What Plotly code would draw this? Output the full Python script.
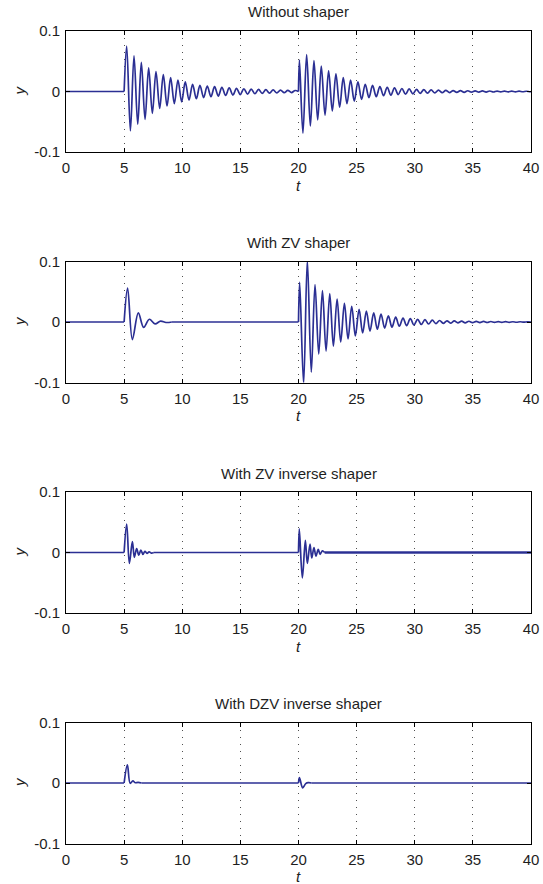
import plotly.graph_objects as go

# ---------------------------------------------------------------------------
# Data: residual vibration y(t) for four command shapers.
# Each oscillating burst is stored as the times and values of its successive
# extrema (peaks and troughs); flat stretches sit at y = 0.
# ---------------------------------------------------------------------------
panel_titles = ["Without shaper", "With ZV shaper",
                "With ZV inverse shaper", "With DZV inverse shaper"]
x_ticks = [0, 5, 10, 15, 20, 25, 30, 35, 40]
y_ticks = [-0.1, 0.0, 0.1]
y_tick_text = ["-0.1", "0", "0.1"]

# --- Without shaper --------------------------------------------------------
p1_burst1_t = [5.00, 5.22, 5.54, 5.85, 6.17, 6.48, 6.80, 7.11, 7.43, 7.74, 8.06,
               8.37, 8.69, 9.00, 9.32, 9.63, 9.95, 10.26, 10.58, 10.89, 11.21,
               11.52, 11.84, 12.15, 12.47, 12.78, 13.10, 13.41, 13.73, 14.04,
               14.36, 14.67, 14.99, 15.30, 15.62, 15.93, 16.25, 16.56, 16.88,
               17.19, 17.51, 17.82, 18.14, 18.45, 18.77, 19.08, 19.40, 19.71,
               20.00]
p1_burst1_y = [0.0, 0.075, -0.065, 0.059, -0.054, 0.048, -0.046, 0.039, -0.036,
               0.033, -0.028, 0.028, -0.024, 0.023, -0.020, 0.019, -0.017, 0.016,
               -0.014, 0.012, -0.012, 0.010, -0.010, 0.009, -0.0085, 0.008,
               -0.0075, 0.007, -0.0065, 0.006, -0.0058, 0.0052, -0.005, 0.0045,
               -0.0042, 0.004, -0.0037, 0.0035, -0.0032, 0.003, -0.0028, 0.0026,
               -0.0024, 0.0022, -0.002, 0.0019, -0.0017, 0.0016, 0.0]
p1_burst2_t = [20.00, 20.08, 20.38, 20.70, 21.02, 21.33, 21.65, 21.96, 22.28,
               22.59, 22.91, 23.22, 23.54, 23.85, 24.17, 24.48, 24.80, 25.11,
               25.43, 25.74, 26.06, 26.37, 26.69, 27.00, 27.32, 27.63, 27.95,
               28.26, 28.58, 28.89, 29.21, 29.52, 29.84, 30.15, 30.47, 30.78,
               31.10, 31.41, 31.73, 32.04, 32.36, 32.67, 32.99, 33.30, 33.62,
               33.93, 34.25, 34.56, 34.88, 35.19, 35.51, 35.82, 36.14, 36.45,
               36.77, 37.08, 37.40, 37.71, 38.03, 38.34, 38.66, 38.97, 39.29,
               39.60, 39.92, 40.00]
p1_burst2_y = [0.0, 0.052, -0.069, 0.061, -0.057, 0.051, -0.047, 0.042, -0.039,
               0.034, -0.032, 0.029, -0.026, 0.023, -0.020, 0.019, -0.016, 0.016,
               -0.013, 0.012, -0.010, 0.010, -0.0085, 0.008, -0.007, 0.007,
               -0.006, 0.006, -0.005, 0.005, -0.0045, 0.0042, -0.0038, 0.0035,
               -0.0032, 0.003, -0.0028, 0.0026, -0.0024, 0.0022, -0.002, 0.0019,
               -0.0017, 0.0016, -0.0015, 0.0014, -0.0013, 0.0012, -0.0011, 0.001,
               -0.001, 0.0009, -0.0009, 0.0008, -0.0008, 0.0007, -0.0007, 0.0006,
               -0.0006, 0.0005, -0.0005, 0.0005, -0.0004, 0.0004, -0.0004, 0.0]

# --- With ZV shaper --------------------------------------------------------
p2_burst1_t = [5.00, 5.30, 5.71, 6.22, 6.68, 7.17, 7.66, 8.14, 8.60, 9.10]
p2_burst1_y = [0.0, 0.056, -0.029, 0.015, -0.009, 0.0045, -0.003, 0.0015,
               -0.0008, 0.0]
p2_burst2_t = [20.00, 20.10, 20.44, 20.76, 21.10, 21.42, 21.74, 22.06, 22.37,
               22.69, 23.00, 23.32, 23.63, 23.95, 24.26, 24.58, 24.89, 25.21,
               25.52, 25.84, 26.15, 26.47, 26.78, 27.10, 27.41, 27.73, 28.04,
               28.36, 28.67, 28.99, 29.30, 29.62, 29.93, 30.25, 30.56, 30.88,
               31.19, 31.51, 31.82, 32.14, 32.45, 32.77, 33.08, 33.40, 33.71,
               34.03, 34.34, 34.66, 34.97, 35.29, 35.60, 35.92, 36.23, 36.55,
               36.86, 37.18, 37.49, 37.81, 38.12, 38.44, 38.75, 39.07, 39.38,
               39.70, 40.00]
p2_burst2_y = [0.0, 0.066, -0.102, 0.102, -0.083, 0.062, -0.053, 0.052, -0.048,
               0.047, -0.040, 0.038, -0.033, 0.031, -0.028, 0.026, -0.023, 0.021,
               -0.018, 0.018, -0.015, 0.015, -0.012, 0.013, -0.010, 0.010,
               -0.0085, 0.008, -0.007, 0.0065, -0.006, 0.0055, -0.005, 0.0045,
               -0.004, 0.0038, -0.0033, 0.003, -0.0027, 0.0025, -0.0022, 0.002,
               -0.0018, 0.0017, -0.0015, 0.0014, -0.0013, 0.0012, -0.0011, 0.001,
               -0.0009, 0.0009, -0.0008, 0.0008, -0.0007, 0.0006, -0.0006, 0.0005,
               -0.0005, 0.0004, -0.0004, 0.0004, -0.0003, 0.0003, 0.0]

# --- With ZV inverse shaper ------------------------------------------------
p3_burst1_t = [5.00, 5.22, 5.45, 5.71, 5.88, 6.08, 6.26, 6.44, 6.62, 6.79,
               6.97, 7.15, 7.33, 7.55]
p3_burst1_y = [0.0, 0.047, -0.018, 0.018, -0.008, 0.0066, -0.0045, 0.004,
               -0.003, 0.002, -0.0015, 0.001, -0.001, 0.0]
p3_burst2_t = [20.00, 20.07, 20.33, 20.59, 20.76, 20.99, 21.14, 21.33, 21.50,
               21.70, 21.86, 22.05, 22.25]
p3_burst2_y = [0.0, 0.039, -0.042, 0.020, -0.018, 0.014, -0.009, 0.008, -0.006,
               0.005, -0.003, 0.0028, 0.0]
# persistent small chatter after the second move: start, end, half-amplitude
p3_chatter = (22.25, 40.0, 0.0026)

# --- With DZV inverse shaper -----------------------------------------------
p4_burst1_t = [5.00, 5.28, 5.52, 5.75, 5.95, 6.20, 6.50]
p4_burst1_y = [0.0, 0.030, -0.0005, 0.0035, 0.0005, 0.001, 0.0]
p4_burst2_t = [20.00, 20.08, 20.36, 20.62, 20.85, 21.10]
p4_burst2_y = [0.0, 0.009, -0.008, -0.001, 0.0005, 0.0]

panel_bursts = [
    [(p1_burst1_t, p1_burst1_y), (p1_burst2_t, p1_burst2_y)],
    [(p2_burst1_t, p2_burst1_y), (p2_burst2_t, p2_burst2_y)],
    [(p3_burst1_t, p3_burst1_y), (p3_burst2_t, p3_burst2_y)],
    [(p4_burst1_t, p4_burst1_y), (p4_burst2_t, p4_burst2_y)],
]

# ---------------------------------------------------------------------------
# Layout geometry (pixels) and styling
# ---------------------------------------------------------------------------
W, H = 543, 884
AX_L, AX_R = 66, 531
PANEL_TOPS = [31, 261.5, 492, 722.5]
PANEL_H = 121
LINE_COLOR = "#2b2f93"
TEXT_COLOR = "#1e1e1e"
FONT = "Liberation Sans, Arial, Helvetica, sans-serif"
FS = 15
LW = 1.7


def py(px):
    """pixel row -> paper y"""
    return 1 - px / H


def px_x(px):
    return px / W


fig = go.Figure()
annotations = []
layout_axes = {}

for i, (title, bursts) in enumerate(zip(panel_titles, panel_bursts)):
    n = "" if i == 0 else str(i + 1)
    xa, ya = "x" + n, "y" + n
    top = PANEL_TOPS[i]
    bottom = top + PANEL_H

    # flat stretches between bursts
    flat_x = [x_ticks[0]]
    for bt, _ in bursts:
        flat_x += [bt[0], None, bt[-1]]
    flat_x += [x_ticks[-1]]
    flat_y = [0.0 if v is not None else None for v in flat_x]
    fig.add_trace(go.Scatter(x=flat_x, y=flat_y, mode="lines", xaxis=xa, yaxis=ya,
                             line=dict(color=LINE_COLOR, width=LW),
                             showlegend=False, hoverinfo="skip"))

    if i == 2:
        c0, c1, amp = p3_chatter
        fig.add_trace(go.Scatter(x=[c0, c1, c1, c0, c0], y=[amp, amp, -amp, -amp, amp],
                                 mode="lines", fill="toself", xaxis=xa, yaxis=ya,
                                 fillcolor="rgba(43,47,147,0.65)",
                                 line=dict(width=0, color="rgba(0,0,0,0)"),
                                 showlegend=False, hoverinfo="skip"))

    for bt, by in bursts:
        fig.add_trace(go.Scatter(x=bt, y=by, mode="lines", xaxis=xa, yaxis=ya,
                                 line=dict(color=LINE_COLOR, width=LW,
                                           shape="spline", smoothing=1.0),
                                 showlegend=False, hoverinfo="skip"))

    common = dict(showline=True, linecolor="black", linewidth=1, mirror="ticks",
                  ticks="inside", ticklen=4, tickcolor="black", tickwidth=1,
                  zeroline=False, automargin=False,
                  tickfont=dict(family=FONT, size=FS, color=TEXT_COLOR))
    layout_axes["xaxis" + n] = dict(
        common, domain=[px_x(AX_L), px_x(AX_R)], range=[x_ticks[0], x_ticks[-1]],
        tickvals=x_ticks, ticktext=[str(v) for v in x_ticks],
        showgrid=True, gridcolor="#505050", griddash="1px,6px", gridwidth=1,
        anchor=ya, ticklabelstandoff=2)
    layout_axes["yaxis" + n] = dict(
        common, domain=[py(bottom), py(top)], range=[-0.1, 0.1],
        tickvals=y_ticks, ticktext=y_tick_text, showgrid=False,
        anchor=xa, ticklabelstandoff=2)

    cx = px_x((AX_L + AX_R) / 2)
    annotations.append(dict(text=title, x=cx, y=py(top - 19), xref="paper", yref="paper",
                            showarrow=False, xanchor="center", yanchor="middle",
                            font=dict(family=FONT, size=FS, color=TEXT_COLOR)))
    annotations.append(dict(text="<i>t</i>", x=cx, y=py(bottom + 33), xref="paper",
                            yref="paper", showarrow=False, xanchor="center",
                            yanchor="middle",
                            font=dict(family=FONT, size=FS, color=TEXT_COLOR)))
    annotations.append(dict(text="<i>y</i>", x=px_x(19), y=py(top + PANEL_H / 2 - 1),
                            xref="paper", yref="paper", showarrow=False,
                            xanchor="center", yanchor="middle", textangle=-90,
                            font=dict(family=FONT, size=FS, color=TEXT_COLOR)))

fig.update_layout(template="none", width=W, height=H,
                  margin=dict(l=0, r=0, t=0, b=0, pad=0, autoexpand=False),
                  paper_bgcolor="white", plot_bgcolor="white",
                  annotations=annotations, **layout_axes)

fig.write_html("out.html")
